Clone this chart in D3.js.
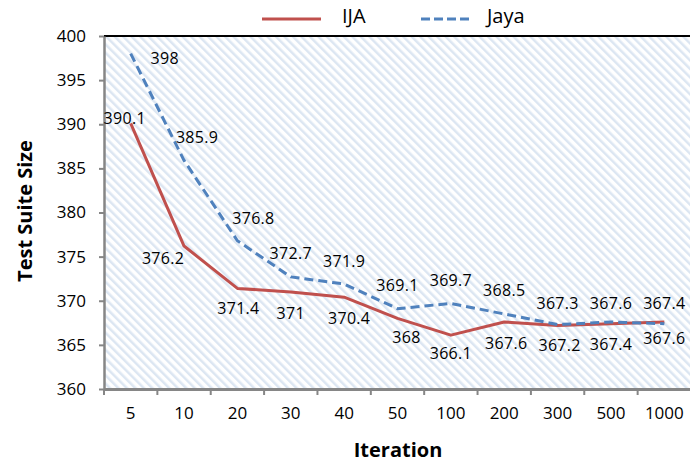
<html>
<head>
  <script src="https://d3js.org/d3.v7.min.js"></script>
  <style>
    body { margin: 0; background: #fff; font-family: 'Open Sans', sans-serif; }
    text { fill: #000; }
  </style>
</head>
<body>
  <div id="chart"></div>
  <script type="text/javascript">

    /*--- Chart Data ---*/
    var iterations = ["5", "10", "20", "30", "40", "50", "100", "200", "300", "500", "1000"],
      ijaValues = [390.1, 376.2, 371.4, 371, 370.4, 368, 366.1, 367.6, 367.2, 367.4, 367.6],
      jayaValues = [398, 385.9, 376.8, 372.7, 371.9, 369.1, 369.7, 368.5, 367.3, 367.6, 367.4],
      yTicks = [360, 365, 370, 375, 380, 385, 390, 395, 400];

    /*--- Label nudges (dx, dy from the point) ---*/
    var ijaShift = [[-6,-5],[-21,12],[1,20],[0,21],[5,21],[9,19],[0,18],[2,21],[2,20],[0,20],[0,16]],
      jayaShift = [[34,4],[13,-23],[16,-23],[0,-24],[0,-23],[0,-24],[0,-23],[0,-24],[0,-22],[0,-19],[0,-21]];

    var width = 690, height = 464,
      plotLeft = 104, plotRight = 691, plotTop = 36, plotBottom = 389;

    var svg = d3.select("#chart").append("svg")
      .attr("width", width).attr("height", height);

    var x = d3.scaleBand().domain(iterations).range([plotLeft, plotRight]).padding(0),
      y = d3.scaleLinear().domain([360, 400]).range([plotBottom, plotTop]);

    /*--- Hatched plot background ---*/
    var defs = svg.append("defs");
    var pat = defs.append("pattern")
      .attr("id", "hatch").attr("patternUnits", "userSpaceOnUse")
      .attr("width", 6).attr("height", 6)
      .attr("patternTransform", "rotate(-45)");
    pat.append("rect").attr("width", 6).attr("height", 6).attr("fill", "#fff");
    pat.append("rect").attr("width", 2.5).attr("height", 6).attr("fill", "#dce6f2");

    svg.append("rect")
      .attr("x", plotLeft).attr("y", plotTop)
      .attr("width", plotRight - plotLeft).attr("height", plotBottom - plotTop)
      .attr("fill", "url(#hatch)");

    svg.append("line")
      .attr("x1", plotLeft).attr("x2", plotRight).attr("y1", plotTop).attr("y2", plotTop)
      .attr("stroke", "#000").attr("stroke-width", 2);

    /*--- Axes ---*/
    var yAxis = svg.append("g")
      .attr("transform", "translate(" + plotLeft + ",0)")
      .call(d3.axisLeft(y).tickValues(yTicks).tickSize(5).tickSizeOuter(0).tickPadding(13));

    var xAxis = svg.append("g")
      .attr("transform", "translate(0," + plotBottom + ")")
      .call(d3.axisBottom(x).tickSize(0).tickPadding(18));

    // band boundary tick marks
    xAxis.selectAll(".bound")
      .data(d3.range(iterations.length + 1))
      .enter().append("line")
      .attr("class", "bound")
      .attr("x1", function(i) { return plotLeft + i * x.step(); })
      .attr("x2", function(i) { return plotLeft + i * x.step(); })
      .attr("y1", 0).attr("y2", 6)
      .attr("stroke", "#868686").attr("stroke-width", 2);

    [yAxis, xAxis].forEach(function(g) {
      g.selectAll("text").style("font-family", "'Open Sans', sans-serif")
        .style("font-size", "17px").attr("fill", "#000");
      g.selectAll(".tick line").attr("stroke", "#868686").attr("stroke-width", 2);
    });
    yAxis.select(".domain").attr("stroke", "#868686").attr("stroke-width", 2.5);
    xAxis.select(".domain").attr("stroke", "#868686").attr("stroke-width", 3);

    /*--- Lines ---*/
    var line = d3.line()
      .x(function(d, i) { return x(iterations[i]) + x.bandwidth() / 2; })
      .y(function(d) { return y(d); });

    svg.append("path").datum(ijaValues)
      .attr("d", line).attr("fill", "none")
      .attr("stroke", "#c0504d").attr("stroke-width", 3).attr("stroke-linejoin", "round");

    svg.append("path").datum(jayaValues)
      .attr("d", line).attr("fill", "none")
      .attr("stroke", "#4f81bd").attr("stroke-width", 3)
      .attr("stroke-dasharray", "9,5");

    /*--- Data labels ---*/
    function addLabels(values, shift) {
      svg.append("g").selectAll("text")
        .data(values).enter().append("text")
        .attr("x", function(d, i) { return x(iterations[i]) + x.bandwidth() / 2 + shift[i][0]; })
        .attr("y", function(d, i) { return y(d) + shift[i][1]; })
        .attr("text-anchor", "middle")
        .attr("dominant-baseline", "central")
        .style("font-size", "16px")
        .style("letter-spacing", "0.3px")
        .text(function(d) { return d; });
    }
    addLabels(ijaValues, ijaShift);
    addLabels(jayaValues, jayaShift);

    /*--- Axis titles ---*/
    svg.append("text")
      .attr("x", 398).attr("y", 457)
      .attr("text-anchor", "middle")
      .style("font-size", "20px").style("font-weight", "bold")
      .text("Iteration");

    svg.append("text")
      .attr("transform", "translate(32,211) rotate(-90)")
      .attr("text-anchor", "middle")
      .style("font-size", "20px").style("font-weight", "bold")
      .text("Test Suite Size");

    /*--- Legend ---*/
    var legend = svg.append("g");
    legend.append("line")
      .attr("x1", 262).attr("x2", 321).attr("y1", 19).attr("y2", 19)
      .attr("stroke", "#c0504d").attr("stroke-width", 3);
    legend.append("text")
      .attr("x", 342).attr("y", 23)
      .style("font-size", "20px").text("IJA");
    legend.append("line")
      .attr("x1", 421).attr("x2", 469).attr("y1", 19).attr("y2", 19)
      .attr("stroke", "#4f81bd").attr("stroke-width", 3)
      .attr("stroke-dasharray", "9,4");
    legend.append("text")
      .attr("x", 487).attr("y", 23)
      .style("font-size", "20px").text("Jaya");

  </script>
</body>
</html>
